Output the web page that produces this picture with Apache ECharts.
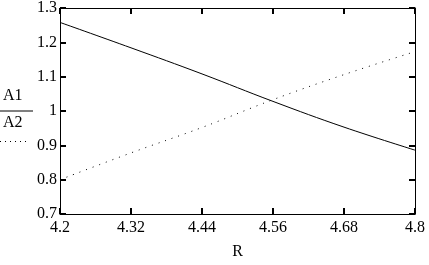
<!DOCTYPE html>
<html><head><meta charset="utf-8">
<script src="https://cdn.jsdelivr.net/npm/echarts@6/dist/echarts.min.js"></script>
<style>html,body{margin:0;padding:0;background:#fff}#c{width:429px;height:265px}</style>
</head><body><div id="c"></div>
<script>
var R = [4.2, 4.32, 4.44, 4.56, 4.68, 4.8];
var A1 = [1.258, 1.184, 1.108, 1.028, 0.953, 0.886];
var A2 = [0.800, 0.878, 0.952, 1.033, 1.106, 1.173];
var xTickLabels = ['4.2','4.32','4.44','4.56','4.68','4.8'];
var yTickLabels = ['0.7','0.8','0.9','1','1.1','1.2','1.3'];
var font = 'Liberation Serif';
var chart = echarts.init(document.getElementById('c'));
function fmtX(v){ var i = Math.round((v-4.2)/0.12); return xTickLabels[i] || ''; }
function fmtY(v){ var i = Math.round((v-0.7)/0.1); return yTickLabels[i] || ''; }
chart.setOption({
  animation:false,
  textStyle:{fontFamily:font},
  grid:{left:60,right:14,top:5,bottom:44,containLabel:false},
  xAxis:[{
    type:'value',min:4.2,max:4.8,interval:0.12,position:'bottom',
    name:'R',nameLocation:'middle',nameGap:30,
    nameTextStyle:{fontFamily:font,fontSize:16,color:'#000'},
    axisLine:{lineStyle:{color:'#000',width:1}},
    axisTick:{inside:true,length:6,lineStyle:{color:'#000',width:2}},
    axisLabel:{formatter:fmtX,fontFamily:font,fontSize:16,color:'#000',margin:6},
    splitLine:{show:false}
  },{
    type:'value',min:4.2,max:4.8,interval:0.12,position:'top',
    axisLine:{show:true,lineStyle:{color:'#000',width:1}},
    axisTick:{inside:true,length:6,lineStyle:{color:'#000',width:2}},
    axisLabel:{show:false},splitLine:{show:false}
  }],
  yAxis:[{
    type:'value',min:0.7,max:1.3,interval:0.1,position:'left',
    axisLine:{show:true,lineStyle:{color:'#000',width:1}},
    axisTick:{show:true,inside:true,length:6,lineStyle:{color:'#000',width:2}},
    axisLabel:{formatter:fmtY,fontFamily:font,fontSize:16,color:'#000',margin:3},
    splitLine:{show:false}
  },{
    type:'value',min:0.7,max:1.3,interval:0.1,position:'right',
    axisLine:{show:true,lineStyle:{color:'#000',width:1}},
    axisTick:{show:true,inside:true,length:6,lineStyle:{color:'#000',width:2}},
    axisLabel:{show:false},splitLine:{show:false}
  }],
  series:[{
    type:'line',name:'A1',xAxisIndex:0,yAxisIndex:0,
    data:R.map(function(r,i){return [r,A1[i]];}),
    showSymbol:false,smooth:0.4,
    lineStyle:{color:'#000',width:1}
  },{
    type:'line',name:'A2',xAxisIndex:0,yAxisIndex:0,
    data:R.map(function(r,i){return [r,A2[i]];}),
    showSymbol:false,smooth:0.4,
    lineStyle:{color:'#000',width:1,type:[1,6]}
  }],
  graphic:[
    {type:'text',left:3,top:88,style:{text:'A1',fontFamily:font,fontSize:16,fill:'#000'}},
    {type:'line',shape:{x1:0,y1:111,x2:33,y2:111},style:{stroke:'#000',lineWidth:1}},
    {type:'text',left:3,top:115,style:{text:'A2',fontFamily:font,fontSize:16,fill:'#000'}},
    {type:'line',shape:{x1:0,y1:141.5,x2:28,y2:141.5},style:{stroke:'#000',lineWidth:1,lineDash:[1,4]}}
  ]
});
</script></body></html>
